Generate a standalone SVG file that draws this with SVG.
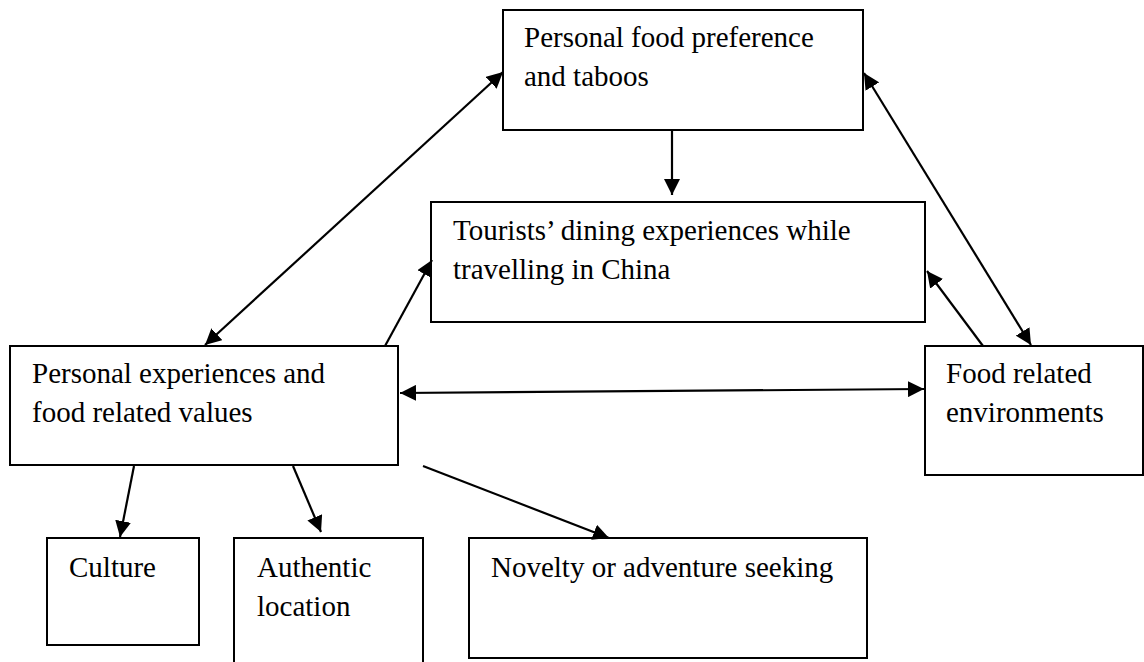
<svg xmlns="http://www.w3.org/2000/svg" width="1144" height="662" viewBox="0 0 1144 662">
<style>
.box{fill:#fff;stroke:#000;stroke-width:2}
.t{font-family:"Liberation Serif","Times New Roman",serif;font-size:29px;fill:#000}
.c{stroke:#000;stroke-width:2.2;fill:none}
</style>
<defs>
<marker id="ah" viewBox="0 0 16 16" markerWidth="16" markerHeight="16" refX="16" refY="8" orient="auto-start-reverse" markerUnits="userSpaceOnUse">
<path d="M0,0 L16,8 L0,16 z" fill="#000"/>
</marker>
</defs>
<rect width="1144" height="662" fill="#fff"/>
<g id="pref">
<rect class="box" x="503" y="10" width="360" height="120"/>
<text class="t" x="524" y="47">Personal food preference</text>
<text class="t" x="524" y="86">and taboos</text>
</g>
<g id="dining">
<rect class="box" x="431" y="202" width="494" height="120"/>
<text class="t" x="453" y="240">Tourists’ dining experiences while</text>
<text class="t" x="453" y="279">travelling in China</text>
</g>
<g id="values">
<rect class="box" x="10" y="346" width="388" height="119"/>
<text class="t" x="32" y="383">Personal experiences and</text>
<text class="t" x="32" y="422">food related values</text>
</g>
<g id="env">
<rect class="box" x="925" y="346" width="218" height="129"/>
<text class="t" x="946" y="383">Food related</text>
<text class="t" x="946" y="422">environments</text>
</g>
<g id="culture">
<rect class="box" x="47" y="538" width="152" height="107"/>
<text class="t" x="69" y="577">Culture</text>
</g>
<g id="authentic">
<rect class="box" x="234" y="538" width="189" height="130"/>
<text class="t" x="257" y="577">Authentic</text>
<text class="t" x="257" y="616">location</text>
</g>
<g id="novelty">
<rect class="box" x="469" y="538" width="398" height="120"/>
<text class="t" x="491" y="577">Novelty or adventure seeking</text>
</g>
<g id="connectors">
<line class="c" x1="672" y1="130" x2="672" y2="195" marker-end="url(#ah)"/>
<line class="c" x1="503" y1="72" x2="205" y2="345" marker-start="url(#ah)" marker-end="url(#ah)"/>
<line class="c" x1="385" y1="346" x2="432" y2="260" marker-end="url(#ah)"/>
<line class="c" x1="864" y1="73" x2="1031" y2="345" marker-start="url(#ah)" marker-end="url(#ah)"/>
<line class="c" x1="983" y1="346" x2="927" y2="271" marker-end="url(#ah)"/>
<line class="c" x1="400" y1="393" x2="924" y2="389" marker-start="url(#ah)" marker-end="url(#ah)"/>
<line class="c" x1="134" y1="466" x2="120" y2="537" marker-end="url(#ah)"/>
<line class="c" x1="293" y1="466" x2="321" y2="532" marker-end="url(#ah)"/>
<line class="c" x1="423" y1="466" x2="609" y2="538" marker-end="url(#ah)"/>
</g>
</svg>
